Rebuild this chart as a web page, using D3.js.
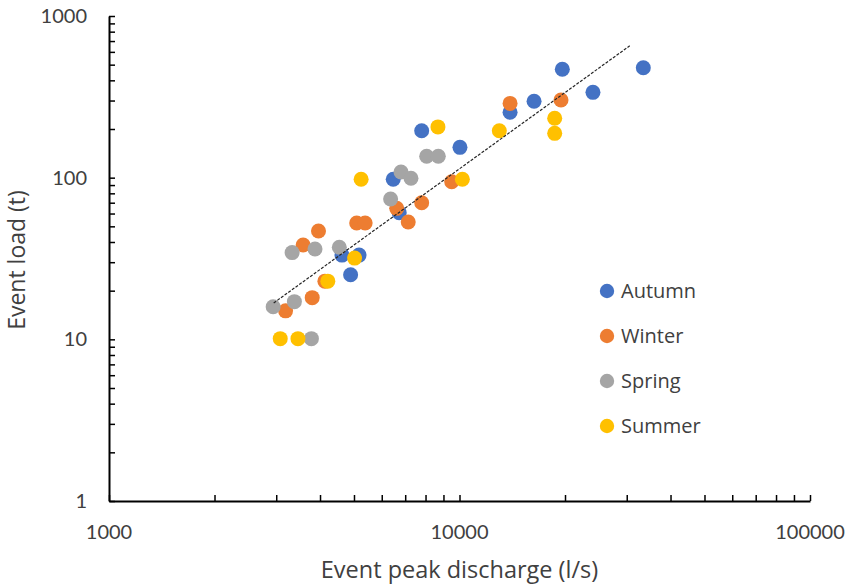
<!DOCTYPE html>
<html>
<head>
<meta charset="utf-8">
<script src="https://cdn.jsdelivr.net/npm/d3@7/dist/d3.min.js"></script>
<style>
  html, body { margin: 0; padding: 0; background: #fff; }
  svg { display: block; font-family: Lato, "Open Sans", sans-serif; }
  .title, .legend-label { font-family: "Open Sans", Lato, sans-serif; }
</style>
</head>
<body>
<svg id="chart" width="847" height="586"></svg>
<script>
// Event peak discharge (l/s) and event load (t) per season
const autumnQ = [19650, 33450, 24030, 16320, 13940, 7800, 10030, 6470, 6730, 4620, 5170, 4890];
const autumnL = [468, 479, 337, 297, 254, 195, 154, 97.7, 60.7, 33.2, 33.2, 25.1];

const winterQ = [19480, 13940, 9500, 7800, 6620, 7140, 5090, 5380, 3960, 3580, 4130, 3800, 3190];
const winterL = [302, 288, 94.4, 70.0, 64.6, 53.2, 52.4, 52.4, 46.8, 38.3, 22.9, 18.1, 15.0];

const springQ = [8060, 8700, 6810, 7270, 6360, 3330, 3870, 4540, 3380, 2940, 3780];
const springL = [135.6, 135.6, 108.4, 99.1, 73.8, 34.4, 36.2, 37.1, 17.1, 15.9, 10.1];

const summerQ = [18690, 18690, 12990, 8680, 5240, 10190, 5020, 4210, 3080, 3460];
const summerL = [233, 188, 195, 206, 97.7, 97.7, 31.8, 22.9, 10.1, 10.1];

const seasonNames = ["Autumn", "Winter", "Spring", "Summer"];
const seasonColors = ["#4472C4", "#ED7D31", "#A5A5A5", "#FFC000"];

// Power-law trend: load = a * Q^b, drawn over the observed discharge range
const trendA = 6.18e-5;
const trendB = 1.566;
const trendRange = [2950, 30600];

const xDomain = [1000, 100000];
const yDomain = [1, 1000];
const xTickValues = [1000, 10000, 100000];
const yTickValues = [1, 10, 100, 1000];

const svg = d3.select("#chart");
const plot = { left: 109, right: 810, top: 16, bottom: 501 };

const x = d3.scaleLog().domain(xDomain).range([plot.left, plot.right]);
const y = d3.scaleLog().domain(yDomain).range([plot.bottom, plot.top]);

// Minor log ticks (2..9 within each decade) plus decades
function logTicks(domain) {
  const out = [];
  for (let d = domain[0]; d < domain[1]; d *= 10) {
    for (let k = 1; k < 10; k++) out.push(d * k);
  }
  out.push(domain[1]);
  return out;
}

const tickColor = "#000";
const labelColor = "#404040";

// X axis: ticks point into the plot
const xAxis = d3.axisBottom(x).tickValues(logTicks(xDomain)).tickSizeInner(-6).tickSizeOuter(0).tickFormat("");
const gx = svg.append("g").attr("transform", `translate(0,${plot.bottom})`).call(xAxis);
gx.select(".domain").attr("stroke", tickColor).attr("stroke-width", 2);
gx.selectAll(".tick line").attr("stroke", tickColor).attr("stroke-width", 1.5);

svg.append("g").selectAll("text").data(xTickValues).join("text")
  .attr("x", d => x(d)).attr("y", plot.bottom + 38)
  .attr("text-anchor", "middle")
  .attr("font-size", 20).attr("fill", labelColor)
  .text(d => d3.format("d")(d));

// Y axis: ticks point into the plot
const yAxis = d3.axisLeft(y).tickValues(logTicks(yDomain)).tickSizeInner(-6).tickSizeOuter(0).tickFormat("");
const gy = svg.append("g").attr("transform", `translate(${plot.left},0)`).call(yAxis);
gy.select(".domain").attr("stroke", tickColor).attr("stroke-width", 2);
gy.selectAll(".tick line").attr("stroke", tickColor).attr("stroke-width", 1.5);

svg.append("g").selectAll("text").data(yTickValues).join("text")
  .attr("x", plot.left - 22).attr("y", d => y(d)).attr("dy", "0.35em")
  .attr("text-anchor", "end")
  .attr("font-size", 20).attr("fill", labelColor)
  .text(d => d3.format("d")(d));

// Axis titles
svg.append("text").attr("class", "title")
  .attr("x", (plot.left + plot.right) / 2).attr("y", 578)
  .attr("text-anchor", "middle").attr("font-size", 23.5).attr("fill", labelColor)
  .text("Event peak discharge (l/s)");

svg.append("text").attr("class", "title")
  .attr("transform", "translate(25,260) rotate(-90)")
  .attr("text-anchor", "middle").attr("font-size", 23).attr("fill", labelColor)
  .text("Event load (t)");

// Points per season
const seasons = [
  { q: autumnQ, l: autumnL },
  { q: winterQ, l: winterL },
  { q: springQ, l: springL },
  { q: summerQ, l: summerL }
];

seasons.forEach((s, i) => {
  const pts = s.q.map((q, j) => ({ q, l: s.l[j] }));
  svg.append("g").selectAll("circle").data(pts).join("circle")
    .attr("cx", d => x(d.q)).attr("cy", d => y(d.l))
    .attr("r", 7.5)
    .attr("fill", seasonColors[i]);
});

// Trend line (straight on log-log axes)
const trendPts = trendRange.map(q => [q, trendA * Math.pow(q, trendB)]);
svg.append("path")
  .datum(trendPts)
  .attr("d", d3.line().x(d => x(d[0])).y(d => y(d[1])))
  .attr("fill", "none")
  .attr("stroke", "#262626")
  .attr("stroke-width", 1.2)
  .attr("stroke-dasharray", "3 1.5");

// Legend
const legend = svg.append("g").attr("transform", "translate(607,291)");
seasonNames.forEach((name, i) => {
  const row = legend.append("g").attr("transform", `translate(0,${i * 45})`);
  row.append("circle").attr("r", 7.2).attr("fill", seasonColors[i]);
  row.append("text").attr("class", "legend-label").attr("x", 14).attr("dy", "0.35em")
    .attr("font-size", 20).attr("fill", labelColor).text(name);
});
</script>
</body>
</html>
